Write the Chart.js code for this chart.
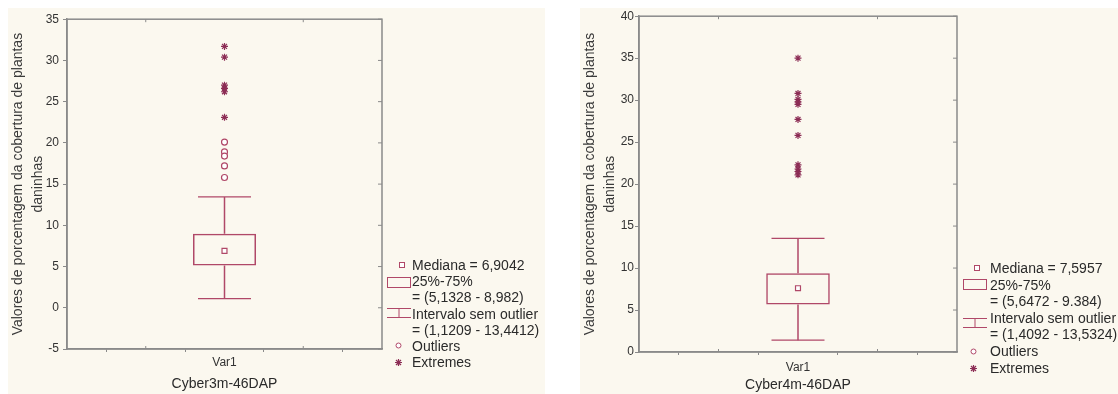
<!DOCTYPE html>
<html lang="pt">
<head>
<meta charset="UTF-8">
<title>Boxplots Cyber 46DAP</title>
<script src="https://cdn.jsdelivr.net/npm/chart.js"></script>
<style>
    body { margin: 0; background: #fff; width: 1118px; height: 394px; position: relative; overflow: hidden;
           font-family: "Liberation Sans", Arial, sans-serif; }
    .panel { position: absolute; top: 8px; height: 386px; background: #fbf8ef; }
    .panel canvas { position: absolute; left: 0; top: 0; }
    .leg { position: absolute; font-size: 14px; color: #2a2a2a; white-space: nowrap; line-height: 16px; }
    .sym { position: absolute; }
    .sym svg { display: block; }
</style>
</head>
<body>
<div class="panel" id="p1" style="left:8px; width:537px;"><canvas id="c1" width="537" height="386"></canvas></div>
<div class="panel" id="p2" style="left:580px; width:538px;"><canvas id="c2" width="538" height="386"></canvas></div>
<script>
// ---- data ----
const yTitle = ['Valores de porcentagem da cobertura de plantas', 'daninhas'];
const categories = ['a', 'b', 'Var1', 'd', 'e'];

const left_title = 'Cyber3m-46DAP';
const left_median = 6.9042;
const left_box = [5.1328, 8.982];
const left_whisk = [1.1209, 13.4412];
const left_outliers = [20.1, 18.9, 18.4, 17.2, 15.8];
const left_extremes = [31.7, 30.4, 27.0, 26.6, 26.2, 23.1];
const left_yrange = [-5, 35];
const left_legend = ['Mediana = 6,9042', '25%-75%', '= (5,1328 - 8,982)', 'Intervalo sem outlier',
                     '= (1,1209 - 13,4412)', 'Outliers', 'Extremes'];

const right_title = 'Cyber4m-46DAP';
const right_median = 7.5957;
const right_box = [5.6472, 9.384];
const right_whisk = [1.4092, 13.5324];
const right_outliers = [];
const right_extremes = [35.0, 30.8, 30.1, 29.8, 29.5, 27.7, 25.8, 22.3, 21.8, 21.5, 21.1];
const right_yrange = [0, 40];
const right_legend = ['Mediana = 7,5957', '25%-75%', '= (5,6472 - 9.384)', 'Intervalo sem outlier',
                      '= (1,4092 - 13,5324)', 'Outliers', 'Extremes'];

const boxColor = 'rgb(176,72,104)';
const extColor = 'rgb(140,45,85)';
const frameColor = '#8a8a8a';
const font = '"Liberation Sans", Arial, sans-serif';

const at = v => ({ x: 'Var1', y: v });

// frame around plot plus small inner ticks on top/right
const framePlugin = {
    id: 'frame',
    afterDraw(chart) {
        const { ctx, chartArea: a, scales } = chart;
        ctx.save();
        ctx.strokeStyle = frameColor;
        ctx.lineWidth = 1.5;
        ctx.strokeRect(a.left, a.top, a.right - a.left, a.bottom - a.top);
        ctx.lineWidth = 1;
        scales.y.ticks.forEach((t, i) => {
            const py = scales.y.getPixelForTick(i);
            ctx.beginPath(); ctx.moveTo(a.right - 4, py); ctx.lineTo(a.right, py); ctx.stroke();
        });
        [1, 3].forEach(i => {
            const px = scales.x.getPixelForTick(i);
            ctx.beginPath(); ctx.moveTo(px, a.top); ctx.lineTo(px, a.top + 3); ctx.stroke();
            ctx.beginPath(); ctx.moveTo(px, a.bottom); ctx.lineTo(px, a.bottom - 3); ctx.stroke();
        });
        ctx.restore();
    }
};

function makeChart(id, d, lay) {
    const pts = (data, style, r, color, fill) => ({
        type: 'line', data: data.map(at), showLine: false, pointStyle: style, pointRadius: r,
        borderColor: color, backgroundColor: fill, pointBorderWidth: 1.2
    });
    const seg = data => ({
        type: 'line', data: data.map(at), borderColor: boxColor, borderWidth: 1.5, pointRadius: 0
    });
    new Chart(document.getElementById(id), {
        type: 'bar',
        data: {
            labels: categories,
            datasets: [
                { data: [at(d.box)], grouped: false, borderColor: boxColor, borderWidth: 1.5,
                  borderSkipped: false, backgroundColor: 'rgba(255,255,255,0)',
                  categoryPercentage: 1, barPercentage: 0.8 },
                seg([d.whisk[0], d.box[0]]),
                seg([d.box[1], d.whisk[1]]),
                pts(d.whisk, 'line', 26.5, boxColor, boxColor),
                pts([d.median], 'rect', 3.5, boxColor, '#fff'),
                pts(d.outliers, 'circle', 3, boxColor, '#fff'),
                pts(d.extremes, 'star', 3.5, extColor, extColor)
            ]
        },
        options: {
            responsive: false,
            animation: false,
            events: [],
            layout: { autoPadding: false, padding: { left: 0, top: 8, right: lay.right, bottom: 0 } },
            plugins: { legend: { display: false }, tooltip: { enabled: false } },
            scales: {
                x: {
                    offset: false,
                    grid: { drawOnChartArea: false, drawTicks: true, tickLength: 3, color: frameColor },
                    border: { color: frameColor, width: 1.5 },
                    ticks: { font: { family: font, size: 12 }, color: '#333', padding: lay.xpad, maxRotation: 0,
                             autoSkip: false,
                             callback(v) { const l = this.getLabelForValue(v); return l === 'Var1' ? l : ''; } },
                    title: { display: true, text: d.title, font: { family: font, size: 14 }, color: '#2a2a2a',
                             padding: { top: 0, bottom: lay.tpad } },
                    afterFit(s) { s.height = lay.xh; }
                },
                y: {
                    min: d.yrange[0], max: d.yrange[1],
                    grid: { drawOnChartArea: false, tickLength: 4, color: frameColor },
                    border: { color: frameColor, width: 1.5 },
                    ticks: { stepSize: 5, font: { family: font, size: 12 }, color: '#333', padding: lay.ypad },
                    title: { display: true, text: yTitle, font: { family: font, size: 14, lineHeight: 1.43 },
                             color: '#3a3a3a', padding: { top: lay.ytpad, bottom: 0 } },
                    afterFit(s) { s.width = 59; }
                }
            }
        },
        plugins: [framePlugin]
    });
}

makeChart('c1', { box: left_box, whisk: left_whisk, median: left_median, outliers: left_outliers,
                  extremes: left_extremes, yrange: left_yrange, title: left_title },
          { right: 163, xh: 45, xpad: 3, tpad: 1, ypad: 4, ytpad: 0 });
makeChart('c2', { box: right_box, whisk: right_whisk, median: right_median, outliers: right_outliers,
                  extremes: right_extremes, yrange: right_yrange, title: right_title },
          { right: 161, xh: 42, xpad: 5, tpad: 0, ypad: 1, ytpad: 0 });

// ---- HTML legends ----
function svgSym(kind) {
    const c = boxColor;
    if (kind === 'median') return `<svg width="6" height="6"><rect x="0.5" y="0.5" width="5" height="5" fill="#fff" stroke="${c}"/></svg>`;
    if (kind === 'box') return `<svg width="24" height="11"><rect x="0.5" y="0.5" width="23" height="10" fill="none" stroke="${c}"/></svg>`;
    if (kind === 'whisk') return `<svg width="24" height="10"><path d="M0 0.5H24M0 9.5H24M12 0.5V9.5" stroke="${c}" fill="none"/></svg>`;
    if (kind === 'out') return `<svg width="7" height="7"><circle cx="3.5" cy="3.5" r="2.5" fill="#fff" stroke="${c}"/></svg>`;
    return `<svg width="7" height="7"><path d="M3.5 0V7M0 3.5H7M1 1L6 6M6 1L1 6" stroke="${extColor}" stroke-width="1.2"/></svg>`;
}

function legend(panel, texts, cfg) {
    const p = document.getElementById(panel);
    texts.forEach((t, i) => {
        const d = document.createElement('div');
        d.className = 'leg';
        d.textContent = t;
        d.style.left = cfg.tx + 'px';
        d.style.top = (cfg.y0 + i * cfg.dy - 8) + 'px';
        p.appendChild(d);
    });
    cfg.syms.forEach(s => {
        const d = document.createElement('div');
        d.className = 'sym';
        d.innerHTML = svgSym(s[0]);
        d.style.left = s[1] + 'px';
        d.style.top = s[2] + 'px';
        p.appendChild(d);
    });
}

// positions are relative to each panel (panel top = 8)
legend('p1', left_legend, { tx: 404, y0: 257, dy: 16.2,
    syms: [['median', 391, 254], ['box', 379, 269], ['whisk', 379, 300], ['out', 387, 334], ['star', 387, 351]] });
legend('p2', right_legend, { tx: 410, y0: 260, dy: 16.6,
    syms: [['median', 394, 257], ['box', 383, 271], ['whisk', 383, 310], ['out', 390, 340], ['star', 390, 357]] });
</script>
</body>
</html>
